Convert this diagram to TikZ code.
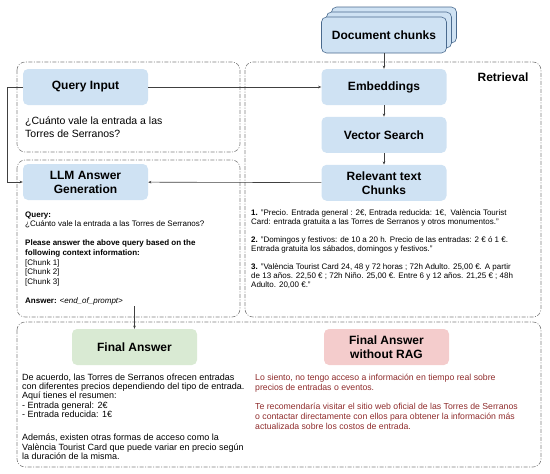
\documentclass[tikz,border=0pt]{standalone}
\usepackage{fontspec}
\setmainfont{Liberation Sans}
\usetikzlibrary{arrows.meta,positioning,shadows}
\definecolor{boxblue}{HTML}{CFE2F3}
\definecolor{boxgreen}{HTML}{D9EAD3}
\definecolor{boxred}{HTML}{F4CCCC}
\definecolor{chunkline}{HTML}{4A6A8E}
\definecolor{grpline}{HTML}{808080}
\definecolor{linkline}{HTML}{404040}
\definecolor{norag}{HTML}{8E2B2B}

\begin{document}
\begin{tikzpicture}[x=1pt, y=-1pt, node distance=11.5pt, >={Stealth[length=3.2pt,width=2.6pt]},
  blk/.style={fill=boxblue, rounded corners=5pt, minimum width=125pt, minimum height=36pt, align=center, font=\fontsize{12}{14}\selectfont\bfseries},
  grp/.style={draw=grpline, line width=0.6pt, rounded corners=8pt, dash pattern=on 4pt off 1.5pt on 1pt off 1.5pt},
  txt/.style={inner sep=0pt, anchor=base west, align=left},
  link/.style={draw=linkline, line width=0.6pt, ->}]
\useasboundingbox (0,0) rectangle (550,474);
% groups
\draw[grp] (17,62) rectangle (240,152);
\draw[grp] (17,160) rectangle (240,317);
\draw[grp] (245,62) rectangle (541,317);
\draw[grp] (17,322) rectangle (541,467);
\node[font=\fontsize{12}{14}\selectfont\bfseries] (ret) at (503,77) {Retrieval};
% blocks
\node[blk, draw=chunkline, line width=0.6pt,
  copy shadow={shadow xshift=10pt, shadow yshift=10pt, fill=boxblue, draw=chunkline, line width=0.6pt},
  copy shadow={shadow xshift=5pt, shadow yshift=5pt, fill=boxblue, draw=chunkline, line width=0.6pt}] (d) at (384,35) {Document chunks};
\node[blk] (e) at (384,87) {Embeddings};
\node[blk, below=of e] (v) {Vector Search};
\node[blk, below=of v] (r) {Relevant text\\Chunks};
\node[blk] (q) at (85.5,87) {Query Input};
\node[blk] (l) at (85.5,182) {LLM Answer\\Generation};
\node[blk, fill=boxgreen] (f) at (134.5,347) {Final Answer};
\node[blk, fill=boxred] (n) at (386.5,347) {Final Answer\\without RAG};
% links
\draw[link] (d) -- (e);
\draw[link] (e) -- (v);
\draw[link] (v) -- (r);
\draw[link] (q) -- (e);
\draw[link] (r) -- (l);
\draw[link] (q.west) -- ++(-16,0) |- (l.west);
\coordinate (a) at (134.5,306);
\draw[link] (a) -- (f);
% texts (anchored at the baseline of their last line)
\node[txt, font=\fontsize{10.5}{13}\selectfont] (qt) at (25,137.7) {¿Cuánto vale la entrada a las\\Torres de Serranos?};
\node[txt, font=\fontsize{8}{9.6}\selectfont] (lt) at (25,303.4) {\textbf{Query:}\\¿Cuánto vale la entrada a las Torres de Serranos?\\[9.6pt]\textbf{Please answer the above query based on the}\\\textbf{following context information:}\\{[Chunk 1]}\\{[Chunk 2]}\\{[Chunk 3]}\\[9.6pt]\textbf{Answer:} \textit{<end\_of\_prompt>}};
\node[txt, font=\fontsize{8}{9}\selectfont] (ct) at (251,287) {\textbf{1.} "Precio. Entrada general : 2€, Entrada reducida: 1€,\ \ València Tourist\\Card: entrada gratuita a las Torres de Serranos y otros monumentos."\\[9pt]\textbf{2.} "Domingos y festivos: de 10 a 20 h. Precio de las entradas: 2 € ó 1 €.\\Entrada gratuita los sábados, domingos y festivos."\\[9pt]\textbf{3.} "València Tourist Card 24, 48 y 72 horas ; 72h Adulto. 25,00 €. A partir\\de 13 años. 22,50 € ; 72h Niño. 25,00 €. Entre 6 y 12 años. 21,25 € ; 48h\\Adulto. 20,00 €."};
\node[txt, font=\fontsize{9}{9.3}\selectfont] (ft) at (22,459.4) {De acuerdo, las Torres de Serranos ofrecen entradas\\con diferentes precios dependiendo del tipo de entrada.\\Aquí tienes el resumen:\\- Entrada general: 2€\\- Entrada reducida: 1€\\[14pt]Además, existen otras formas de acceso como la\\València Tourist Card que puede variar en precio según\\la duración de la misma.};
\node[txt, text=norag, font=\fontsize{8.7}{9.7}\selectfont] (nt) at (255,429.1) {Lo siento, no tengo acceso a información en tiempo real sobre\\precios de entradas o eventos.\\[10pt]Te recomendaría visitar el sitio web oficial de las Torres de Serranos\\o contactar directamente con ellos para obtener la información más\\actualizada sobre los costos de entrada.};
\end{tikzpicture}
\end{document}
